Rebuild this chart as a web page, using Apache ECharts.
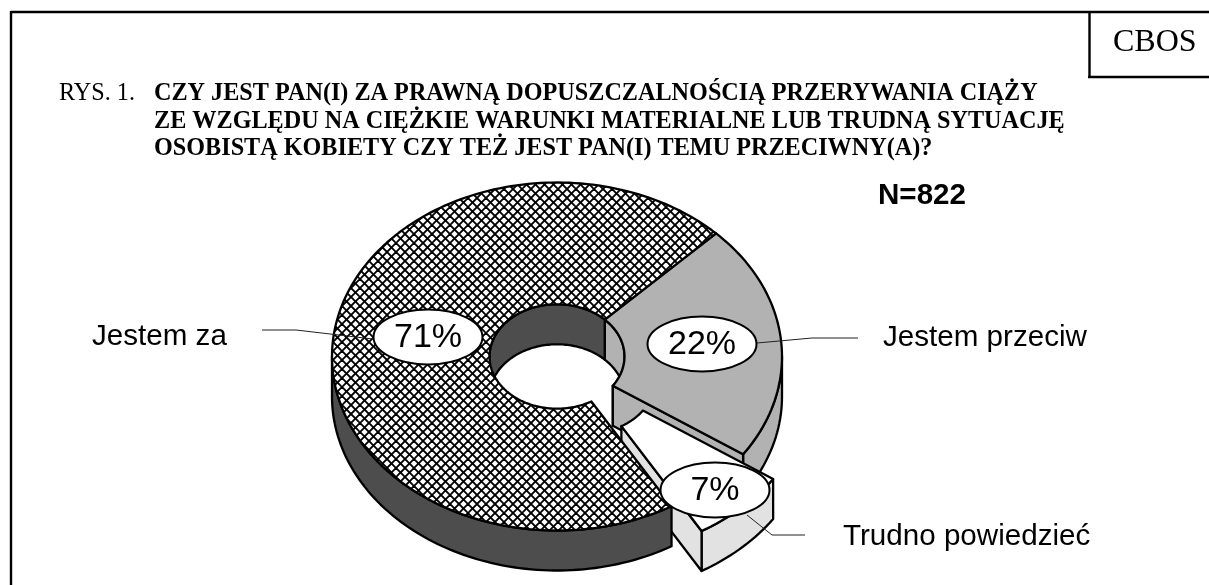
<!DOCTYPE html>
<html><head><meta charset="utf-8">
<style>html,body{margin:0;padding:0;background:#fff}#c{width:1209px;height:585px}</style>
<script src="https://cdn.jsdelivr.net/npm/echarts@6/dist/echarts.min.js"></script>
</head><body><div id="c"></div>
<script>
// Data, clockwise from the boundary in the upper right
const categories = ['Jestem przeciw', 'Trudno powiedzieć', 'Jestem za'];
const values = [22, 7, 71];
const titlePrefix = 'RYS. 1.';
const titleLines = [
  'CZY JEST PAN(I) ZA PRAWNĄ DOPUSZCZALNOŚCIĄ PRZERYWANIA CIĄŻY',
  'ZE WZGLĘDU NA CIĘŻKIE WARUNKI MATERIALNE LUB TRUDNĄ SYTUACJĘ',
  'OSOBISTĄ KOBIETY CZY TEŻ JEST PAN(I) TEMU PRZECIWNY(A)?'
];
const sampleLabel = 'N=822';
const sourceLabel = 'CBOS';

// Layout
const G = {cx:557, cy:356.5, rx:225, ry:174, hole:0.3, depth:40, startDeg:45, explode:0.195};
const SLICE = [
  {top:'#b2b2b2', wall:'#b2b2b2', cut:'#b2b2b2', inner:'#b2b2b2', explode:false},
  {top:'#ffffff', wall:'#e2e2e2', cut:'#e2e2e2', inner:null, explode:true},
  {top:'hatch',  wall:'#4d4d4d', cut:null, inner:'#4d4d4d', explode:false}
];
const LABEL = [
  {ex:702, ey:344, tx:883, ty:338, line:[[757,343],[812,338],[858,338]]},
  {ex:715, ey:490, tx:843, ty:537, line:[[747,515],[772,535],[805,535]]},
  {ex:428, ey:337, tx:92,  ty:337, line:[[262,330],[296,330],[373,339]]}
];

function hatchTile(){
  const S = 18, c = document.createElement('canvas'); c.width = c.height = S;
  const g = c.getContext('2d');
  g.fillStyle = '#fff'; g.fillRect(0,0,S,S);
  g.strokeStyle = '#000'; g.lineWidth = 1.9;
  const p = S/2;
  for (let k=-3;k<=5;k++){
    g.beginPath(); g.moveTo(k*p,0); g.lineTo(k*p+S,S); g.stroke();
    g.beginPath(); g.moveTo(k*p,S); g.lineTo(k*p+S,0); g.stroke();
  }
  return {image:c, repeat:'repeat'};
}
const HATCH = hatchTile();

const total = values.reduce((a,b)=>a+b,0);
function sliceAngles(i){
  let a = G.startDeg;
  for (let k=0;k<i;k++) a -= values[k]/total*360;
  return [a, a - values[i]/total*360];
}
function pt(deg, r, z, off){
  const t = deg*Math.PI/180;
  return [G.cx + off[0] + G.rx*r*Math.cos(t), G.cy + off[1] - G.ry*r*Math.sin(t) + z];
}
function arc(from, to, r, z, off){
  const n = Math.max(2, Math.ceil(Math.abs(to-from)/1.5)), out = [];
  for (let k=0;k<=n;k++) out.push(pt(from+(to-from)*k/n, r, z, off));
  return out;
}
function poly(points, fill){
  return {type:'polygon', shape:{points}, style:{fill, stroke:'#000', lineWidth:2.3, lineJoin:'round'}};
}
function band(from, to, r, off, fill){
  return poly(arc(from, to, r, 0, off).concat(arc(to, from, r, G.depth, off)), fill);
}
function renderSlice(params, api){
  const i = params.dataIndex, s = SLICE[i];
  const [a0, a1] = sliceAngles(i);
  const mid = (a0+a1)/2*Math.PI/180;
  const off = s.explode ? [G.explode*G.rx*Math.cos(mid), -G.explode*G.ry*Math.sin(mid)] : [0,0];
  const H = G.hole, ch = [];
  // far side of the hole: the part that faces the viewer
  if (s.inner) {
    if (a1 < -180) ch.push(band(a1, -180, H, off, s.inner));
    else ch.push(band(a0, a1, H, off, s.inner));
  }
  // near outer wall: only angles below the horizontal are visible
  const wallFrom = Math.min(a0, 0), wallTo = Math.max(a1, -180);
  ch.push(band(wallFrom, wallTo, 1, off, s.wall));
  // exposed radial wall
  if (s.cut) {
    ch.push(poly([pt(a1,H,0,off), pt(a1,1,0,off), pt(a1,1,G.depth,off), pt(a1,H,G.depth,off)], s.cut));
  }
  // top face
  const fill = s.top === 'hatch' ? HATCH : s.top;
  ch.push(poly(arc(a0,a1,1,0,off).concat(arc(a1,a0,H,0,off)), fill));
  return {type:'group', children:ch};
}
function renderLabel(params, api){
  const i = params.dataIndex, L = LABEL[i];
  const v = api.value(1);
  return {type:'group', children:[
    {type:'polyline', shape:{points:L.line}, style:{fill:null, stroke:'#222', lineWidth:1}},
    {type:'ellipse', shape:{cx:L.ex, cy:L.ey, rx:54.5, ry:27.5}, style:{fill:'#fff', stroke:'#000', lineWidth:2}},
    {type:'text', x:L.ex, y:L.ey+1, style:{text:v+'%', font:'34px "Liberation Sans"', fill:'#000', align:'center', verticalAlign:'middle'}},
    {type:'text', x:L.tx, y:L.ty, style:{text:categories[i], font:'29.6px "Liberation Sans"', fill:'#000', align:'left', verticalAlign:'middle'}}
  ]};
}

const sourceData = values.map((v,i)=>[i,v]);
const serif = '"Liberation Serif"';
const frame = {stroke:'#000', lineWidth:2.4};
const chart = echarts.init(document.getElementById('c'), null, {renderer:'canvas'});
chart.setOption({
  animation:false,
  backgroundColor:'#fff',
  series:[
    {type:'custom', coordinateSystem:'none', silent:true, z:2, data:sourceData, renderItem:renderSlice},
    {type:'custom', coordinateSystem:'none', silent:true, z:3, data:sourceData, renderItem:renderLabel}
  ],
  graphic:[
    {type:'line', shape:{x1:11,y1:12,x2:1209,y2:12}, style:frame, z:1},
    {type:'line', shape:{x1:11,y1:11,x2:11,y2:585}, style:frame, z:1},
    {type:'line', shape:{x1:1089.5,y1:12,x2:1089.5,y2:77}, style:frame, z:1},
    {type:'line', shape:{x1:1088,y1:77,x2:1209,y2:77}, style:frame, z:1},
    {type:'text', x:1113, y:43, z:1, style:{text:sourceLabel, font:'32px '+serif, fill:'#000', verticalAlign:'middle'}},
    {type:'text', x:59, y:94, z:1, style:{text:titlePrefix, font:'24.2px '+serif, fill:'#000', verticalAlign:'middle'}},
    ...titleLines.map((t,i)=>({type:'text', x:154, y:94+27.5*i, z:1, style:{text:t, font:'bold 24.2px '+serif, fill:'#000', verticalAlign:'middle'}})),
    {type:'text', x:878, y:196, z:1, style:{text:sampleLabel, font:'bold 29.6px "Liberation Sans"', fill:'#000', verticalAlign:'middle'}}
  ]
});
</script></body></html>
